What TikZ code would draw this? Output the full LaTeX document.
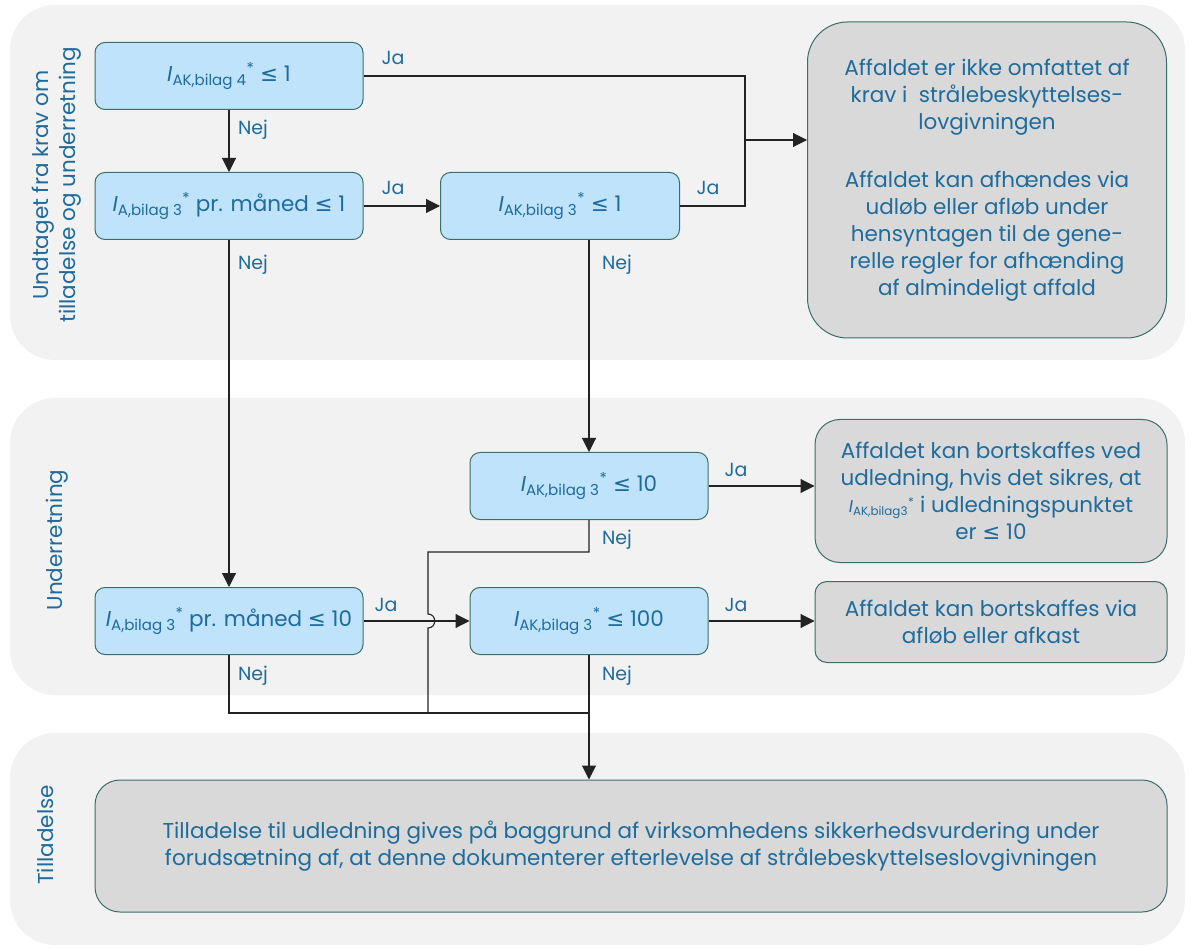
\documentclass[tikz,border=0pt]{standalone}
\usepackage{fontspec}
\setmainfont{Poppins}
\newfontfamily\symfam{DejaVu Sans}
\usetikzlibrary{arrows.meta,positioning}
\definecolor{dkblue}{RGB}{31,108,156}
\definecolor{boxblue}{RGB}{190,227,250}
\definecolor{boxgray}{RGB}{217,217,217}
\definecolor{bandgray}{RGB}{242,242,242}
\definecolor{edgeteal}{RGB}{60,110,105}
\definecolor{linegray}{RGB}{35,35,35}
\newcommand{\Iq}[1]{\textit{I}\textsubscript{#1}\textsuperscript{*}}
\newcommand{\lte}{{\symfam ≤}}

\begin{document}
\begin{tikzpicture}[x=1pt,y=-1pt,font=\fontsize{21.5}{27}\selectfont,
  band/.style={fill=bandgray,rounded corners=45pt},
  test/.style={draw=edgeteal,fill=boxblue,text=dkblue,line width=1pt,rounded corners=10pt,minimum width=268pt,minimum height=67pt},
  result/.style={draw=edgeteal,fill=boxgray,text=dkblue,line width=1pt,align=center},
  flow/.style={draw=linegray,line width=1.1pt},
  arr/.style={flow,-{Triangle[length=14pt,width=14pt]}},
  lab/.style={text=dkblue,font=\fontsize{19}{20}\selectfont},
  side/.style={text=dkblue,rotate=90,align=center}]
\useasboundingbox (0,0) rectangle (1192,949);
% Bands
\fill[band] (10,5) rectangle (1185,360);
\fill[band] (10,398) rectangle (1185,695);
\fill[band] (10,733) rectangle (1185,945);
\node[side] at (57,185) {Undtaget fra krav om\\tilladelse og underretning};
\node[side] at (57,540) {Underretning};
\node[side] at (45,835) {Tilladelse};
% Tests
\node[test] (b1) at (229,76) {\Iq{AK,bilag 4} \lte{} 1};
\node[test] (b2) at (229,206) {\Iq{A,bilag 3} pr. måned \lte{} 1};
\node[test,minimum width=239pt] (b3) at (560,206) {\Iq{AK,bilag 3} \lte{} 1};
\node[test,minimum width=238pt] (b4) at (589,486) {\Iq{AK,bilag 3} \lte{} 10};
\node[test] (b5) at (229,621) {\Iq{A,bilag 3} pr. måned \lte{} 10};
\node[test,minimum width=238pt] (b6) at (589,621) {\Iq{AK,bilag 3} \lte{} 100};
% Results
\node[result,rounded corners=40pt,minimum width=359pt,minimum height=316pt] (r1) at (987,180)
  {Affaldet er ikke omfattet af\\krav i\ \ strålebeskyttelses-\\lovgivningen\\[31pt]Affaldet kan afhændes via\\udløb eller afløb under\\hensyntagen til de gene-\\relle regler for afhænding\\af almindeligt affald};
\node[result,rounded corners=25pt,minimum width=352pt,minimum height=143pt] (r2) at (991,491)
  {Affaldet kan bortskaffes ved\\udledning, hvis det sikres, at\\{\fontsize{17}{20}\selectfont\Iq{AK,bilag3}} i udledningspunktet\\er \lte{} 10};
\node[result,rounded corners=12pt,minimum width=352pt,minimum height=81pt] (r3) at (991,622)
  {Affaldet kan bortskaffes via\\afløb eller afkast};
\node[result,rounded corners=25pt,minimum width=1072pt,minimum height=132pt] (r4) at (631,846)
  {Tilladelse til udledning gives på baggrund af virksomhedens sikkerhedsvurdering under\\forudsætning af, at denne dokumenterer efterlevelse af strålebeskyttelseslovgivningen};
% Connectors
\coordinate (jx) at (745,140);
\coordinate (k1) at (428,552);
\coordinate (k2) at (428,713);
\coordinate (mrg) at (590,713);
\draw[flow] (b1.east) -| (jx);
\draw[flow] (b3.east) -| (jx);
\draw[arr] (jx) -- (jx -| r1.west);
\draw[arr] (b1) -- (b2);
\draw[arr] (b2) -- (b3);
\draw[arr] (b2) -- (b5);
\draw[arr] (b4.north |- b3.south) -- (b4.north);
\draw[arr] (b4.east) -- (b4.east -| r2.west);
\draw[arr] (b5) -- (b6);
\draw[arr] (b6.east) -- (b6.east -| r3.west);
\draw[flow] (b4.south) |- (k1) -- (428,614) .. controls (437,614) and (437,628) .. (428,628) -- (k2);
\draw[flow] (b5.south) |- (mrg);
\draw[arr] (b6.south) -- (b6.south |- r4.north);
% Labels
\node[lab] at (393,58) {Ja};
\node[lab] at (253,130) {Nej};
\node[lab] at (393,188) {Ja};
\node[lab] at (708,188) {Ja};
\node[lab] at (253,265) {Nej};
\node[lab] at (617,265) {Nej};
\node[lab] at (736,470) {Ja};
\node[lab] at (617,540) {Nej};
\node[lab] at (386,605) {Ja};
\node[lab] at (736,605) {Ja};
\node[lab] at (253,676) {Nej};
\node[lab] at (617,676) {Nej};
\end{tikzpicture}
\end{document}
